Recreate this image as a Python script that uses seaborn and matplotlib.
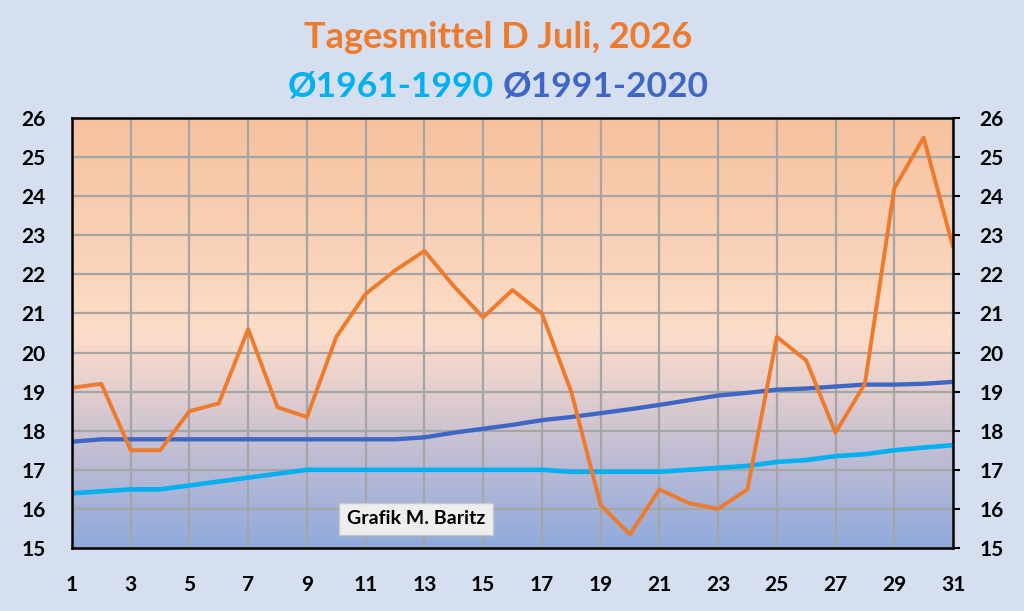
import numpy as np
import pandas as pd
import matplotlib
matplotlib.use("Agg")
import matplotlib.pyplot as plt
from matplotlib.colors import LinearSegmentedColormap
import seaborn as sns

days = list(range(1, 32))
tagesmittel_2026 = [19.1, 19.2, 17.5, 17.5, 18.5, 18.7, 20.6, 18.6, 18.35, 20.4,
                    21.5, 22.1, 22.6, 21.7, 20.9, 21.6, 21.0, 19.0, 16.1, 15.35,
                    16.5, 16.15, 16.0, 16.5, 20.4, 19.8, 17.95, 19.2, 24.2, 25.5, 22.7]
mittel_1961_1990 = [16.4, 16.45, 16.5, 16.5, 16.6, 16.7, 16.8, 16.9, 17.0, 17.0,
                    17.0, 17.0, 17.0, 17.0, 17.0, 17.0, 17.0, 16.95, 16.95, 16.95,
                    16.95, 17.0, 17.05, 17.1, 17.2, 17.25, 17.35, 17.4, 17.5, 17.57, 17.63]
mittel_1991_2020 = [17.72, 17.78, 17.78, 17.78, 17.78, 17.78, 17.78, 17.78, 17.78, 17.78,
                    17.78, 17.78, 17.83, 17.95, 18.05, 18.15, 18.27, 18.35, 18.45, 18.55,
                    18.66, 18.78, 18.9, 18.97, 19.05, 19.08, 19.13, 19.18, 19.18, 19.2, 19.25]
x_ticks = list(range(1, 32, 2))
y_ticks = list(range(15, 27))

title_line1 = "Tagesmittel D Juli, 2026"
label_1961 = "Ø1961-1990"
label_1991 = "Ø1991-2020"
credit = "Grafik M. Baritz"

df = pd.DataFrame({"Tag": days, "2026": tagesmittel_2026,
                   "1961-1990": mittel_1961_1990, "1991-2020": mittel_1991_2020})

plt.rcParams["font.family"] = ["Lato", "DejaVu Sans"]
plt.rcParams["font.weight"] = "bold"

c_orange = "#EE7A2C"
c_light = "#00B0F0"
c_dark = "#3E66C4"

fig = plt.figure(figsize=(10.24, 6.11), dpi=100, facecolor="#D5DFF0")
ax = fig.add_axes([72/1024, 1-548/611, (953-72)/1024, (548-118)/611])

# gradient background
cmap = LinearSegmentedColormap.from_list("bg", [
    (0.0, "#F6C19D"), (0.5, "#FCDDC9"), (0.6, "#EBD2CC"),
    (0.8, "#BCBBD4"), (1.0, "#90AADD")])
grad = np.linspace(0, 1, 256).reshape(-1, 1)
ax.imshow(grad, cmap=cmap, aspect="auto", extent=[1, 31, 15, 26],
          origin="upper", zorder=0)

sns.lineplot(data=df, x="Tag", y="1961-1990", ax=ax, color=c_light, linewidth=3.3, zorder=3)
sns.lineplot(data=df, x="Tag", y="1991-2020", ax=ax, color=c_dark, linewidth=3.1, zorder=3)
sns.lineplot(data=df, x="Tag", y="2026", ax=ax, color=c_orange, linewidth=2.8, zorder=4)
for ln in ax.get_lines():
    ln.set_solid_joinstyle("round")
    ln.set_solid_capstyle("round")

ax.set_xlim(1, 31)
ax.set_ylim(15, 26)
ax.set_xticks(x_ticks)
ax.set_yticks(y_ticks)
ax.set_xlabel("")
ax.set_ylabel("")
ax.grid(True, color="#A5A5A5", linewidth=1.6, zorder=1)
ax.set_axisbelow(False)
for gl in ax.get_xgridlines() + ax.get_ygridlines():
    gl.set_zorder(1)

ax.tick_params(axis="x", bottom=False, pad=16, labelsize=15)
ax.tick_params(axis="y", left=False, right=True, labelleft=True, labelright=True,
               direction="out", length=5, width=1.5, labelsize=15, pad=14)
for lab in ax.get_xticklabels() + ax.get_yticklabels():
    lab.set_fontweight("bold")
for sp in ax.spines.values():
    sp.set_color("black")
    sp.set_linewidth(1.8)
    sp.set_zorder(5)

# titles
fig.text(498/1024, 1-38/611, title_line1, color=c_orange, fontsize=26,
         fontweight="bold", ha="center", va="center")
fig.text(494/1024, 1-86/611, label_1961, color=c_light, fontsize=25.5,
         fontweight="bold", ha="right", va="center")
fig.text(503/1024, 1-86/611, label_1991, color=c_dark, fontsize=25.5,
         fontweight="bold", ha="left", va="center")

ax.text((416-72)/881, (548-519)/430, credit, transform=ax.transAxes,
        fontsize=14, fontweight="bold", ha="center", va="center", zorder=6,
        bbox=dict(boxstyle="square,pad=0.4", facecolor="#EEEEEE", edgecolor="#C8C8C8", linewidth=1))

fig.savefig("out.png", dpi=100, facecolor=fig.get_facecolor())
